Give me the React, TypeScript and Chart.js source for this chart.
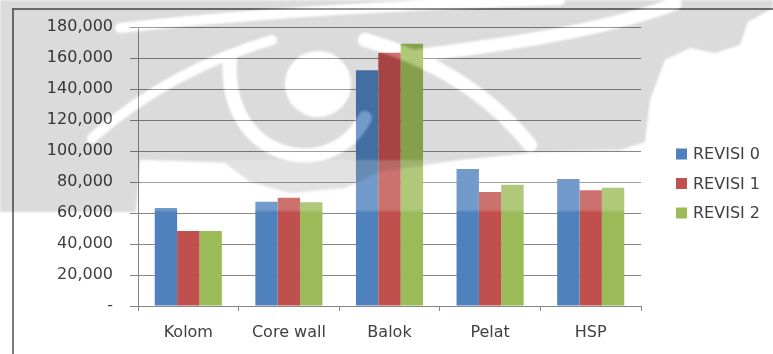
import React, { useEffect, useRef } from "react";
import { Chart, registerables } from "chart.js";

Chart.register(...registerables);

// Categories and series values (volume per structural element)
const categories = ["Kolom", "Core wall", "Balok", "Pelat", "HSP"];
const revisi0 = [63200, 67300, 152100, 88400, 81900];
const revisi1 = [48400, 69900, 163400, 73500, 74600];
const revisi2 = [48400, 66900, 169200, 78300, 76300];
const seriesNames = ["REVISI 0", "REVISI 1", "REVISI 2"];
const seriesColors = ["#4F81BD", "#C0504D", "#9BBB59"];
const yMin = 0;
const yMax = 180000;
const yStep = 20000;

const W = 773;
const H = 354;
const FONT = "'DejaVu Sans', sans-serif";
const TEXT = "#404040";
const LINE = "#868686";

function formatTick(v: number): string {
  if (v === 0) return "-";
  return v.toLocaleString("en-US");
}

// Frame and white page behind the chart
const framePlugin = {
  id: "frame",
  beforeDraw(chart: Chart) {
    const ctx = chart.ctx;
    ctx.save();
    ctx.fillStyle = "#ffffff";
    ctx.fillRect(0, 0, W, H);
    ctx.strokeStyle = "#7a7a7a";
    ctx.lineWidth = 2;
    ctx.beginPath();
    ctx.moveTo(13, H + 2);
    ctx.lineTo(13, 9);
    ctx.lineTo(W + 2, 9);
    ctx.stroke();
    ctx.restore();
  },
};

// Legend drawn to the right of the plot
const sideLegendPlugin = {
  id: "sideLegend",
  afterDraw(chart: Chart) {
    const ctx = chart.ctx;
    ctx.save();
    ctx.font = `16px ${FONT}`;
    ctx.textBaseline = "middle";
    ctx.textAlign = "left";
    chart.data.datasets.forEach((ds: any, i: number) => {
      const cy = 154 + i * 29.5;
      ctx.fillStyle = ds.backgroundColor;
      ctx.fillRect(676, cy - 5.5, 11, 11);
      ctx.fillStyle = TEXT;
      ctx.fillText(ds.label, 693, cy + 1);
    });
    ctx.restore();
  },
};

// Light strokes of the watermark emblem
function emblemStrokes(w: CanvasRenderingContext2D) {
  w.lineCap = "round";
  // thin blade on the left
  w.lineWidth = 10;
  w.beginPath();
  w.moveTo(272, 40);
  w.quadraticCurveTo(170, 70, 92, 138);
  w.stroke();
  // thin band near the top
  w.lineWidth = 10;
  w.beginPath();
  w.moveTo(120, 28);
  w.quadraticCurveTo(300, 8, 560, 0);
  w.stroke();
  // eye
  w.beginPath();
  w.arc(318, 84, 33, 0, Math.PI * 2);
  w.fill();
  // arc round the eye
  w.lineWidth = 14;
  w.beginPath();
  w.moveTo(230, 58);
  w.bezierCurveTo(222, 160, 330, 185, 365, 118);
  w.stroke();
  // right crescent
  w.lineWidth = 14;
  w.beginPath();
  w.moveTo(365, 40);
  w.quadraticCurveTo(470, 70, 530, 145);
  w.stroke();
  // swoosh rising to the top right
  w.lineWidth = 13;
  w.beginPath();
  w.moveTo(415, 56);
  w.bezierCurveTo(500, 45, 600, 32, 675, 4);
  w.stroke();
}

// Faint grey watermark over the upper part of the page
const watermarkPlugin = {
  id: "watermark",
  afterDraw(chart: Chart) {
    const ctx = chart.ctx;
    const grey = document.createElement("canvas");
    grey.width = W;
    grey.height = H;
    const g = grey.getContext("2d");
    const light = document.createElement("canvas");
    light.width = W;
    light.height = H;
    const l = light.getContext("2d");
    if (!g || !l) return;

    g.fillStyle = "rgba(0,0,0,0.14)";
    g.beginPath();
    const pts = [
      [0, 0], [773, 0], [773, 8], [748, 22], [740, 45], [715, 53], [690, 48],
      [665, 60], [650, 100], [645, 142], [620, 150], [540, 152], [460, 160],
      [420, 166], [378, 172], [345, 188], [290, 193], [250, 182], [225, 163],
      [140, 160], [136, 212], [0, 212],
    ];
    pts.forEach(([x, y], i) => (i === 0 ? g.moveTo(x, y) : g.lineTo(x, y)));
    g.closePath();
    g.fill();
    g.globalCompositeOperation = "destination-out";
    g.strokeStyle = "#000";
    g.fillStyle = "#000";
    emblemStrokes(g);

    l.fillStyle = "#fff";
    l.strokeStyle = "#fff";
    emblemStrokes(l);
    l.fillRect(140, 160, 510, 51);

    ctx.save();
    ctx.filter = "blur(1px)";
    ctx.drawImage(grey, 0, 0);
    ctx.globalAlpha = 0.2;
    ctx.drawImage(light, 0, 0);
    ctx.restore();
  },
};

export default function App() {
  const canvasRef = useRef<HTMLCanvasElement | null>(null);

  useEffect(() => {
    const canvas = canvasRef.current;
    if (!canvas) return;
    const values = [revisi0, revisi1, revisi2];
    const chart = new Chart(canvas, {
      type: "bar",
      data: {
        labels: categories,
        datasets: seriesNames.map((name, i) => ({
          label: name,
          data: values[i],
          backgroundColor: seriesColors[i],
          borderWidth: 0,
          categoryPercentage: 0.667,
          barPercentage: 1,
        })),
      },
      options: {
        responsive: false,
        animation: false,
        devicePixelRatio: 1,
        layout: { padding: { left: 0, top: 27, right: 132, bottom: 0 } },
        plugins: {
          legend: { display: false },
          tooltip: { enabled: false },
        },
        scales: {
          x: {
            offset: true,
            grid: {
              display: true,
              offset: true,
              drawOnChartArea: false,
              drawTicks: true,
              tickLength: 5,
              color: LINE,
            },
            border: { display: true, color: LINE },
            ticks: {
              color: TEXT,
              font: { family: FONT, size: 16 },
              padding: 12,
              maxRotation: 0,
            },
            afterFit(scale: any) {
              scale.height = 48;
            },
          },
          y: {
            min: yMin,
            max: yMax,
            grid: {
              color: LINE,
              tickLength: 8,
              drawTicks: true,
            },
            border: { display: true, color: LINE },
            ticks: {
              stepSize: yStep,
              color: TEXT,
              font: { family: FONT, size: 16 },
              padding: 17,
              callback: (v: any) => formatTick(Number(v)),
            },
            afterFit(scale: any) {
              scale.width = 138;
            },
          },
        },
      },
      plugins: [framePlugin, sideLegendPlugin, watermarkPlugin],
    });
    return () => chart.destroy();
  }, []);

  return (
    <div style={{ position: "absolute", left: 0, top: 0, width: W, height: H }}>
      <canvas ref={canvasRef} width={W} height={H} style={{ display: "block", width: W, height: H }} />
    </div>
  );
}
